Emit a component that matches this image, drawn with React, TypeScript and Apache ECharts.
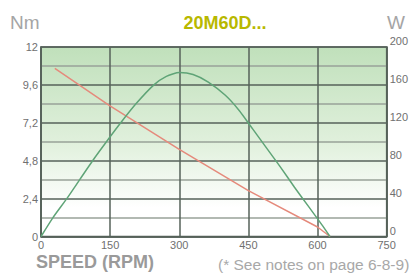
import React, { useEffect, useRef } from "react";
import * as echarts from "echarts";

const xTicks = [0, 150, 300, 450, 600, 750];
const torqueTicks = [0, 2.4, 4.8, 7.2, 9.6, 12];
const powerTicks = [0, 40, 80, 120, 160, 200];

const torqueData: [number, number][] = [
  [30, 10.65], [148, 8.3], [300, 5.52], [450, 2.9], [600, 0.6], [627, 0],
];
const powerData: [number, number][] = [
  [0, 0], [26, 20], [56, 40], [84, 60], [112, 80], [142, 100], [173, 120],
  [206, 140], [245, 160], [272, 169], [300, 173], [330, 171], [363, 163],
  [400, 149], [430, 133], [460, 113], [490, 93], [520, 73], [550, 52],
  [580, 32], [610, 12], [627, 0],
];

const title = "20M60D...";
const leftUnit = "Nm";
const rightUnit = "W";
const xName = "SPEED (RPM)";
const note = "(* See notes on page 6-8-9)";

export default function App() {
  const ref = useRef<HTMLDivElement>(null);
  useEffect(() => {
    if (!ref.current) return;
    const chart = echarts.init(ref.current, undefined, { renderer: "svg" });
    const font = "Liberation Sans, Arial, sans-serif";
    const major = "#56625a";
    const minor = "#98a298";
    chart.setOption({
      animation: false,
      textStyle: { fontFamily: font },
      title: {
        text: title,
        left: 220,
        top: 9,
        textAlign: "center",
        textStyle: { color: "#b8b800", fontSize: 18, fontWeight: "bold", fontFamily: font },
      },
      grid: {
        left: 41,
        right: 21,
        top: 47,
        bottom: 36.5,
        show: true,
        borderColor: major,
        borderWidth: 1.5,
        backgroundColor: new echarts.graphic.LinearGradient(0, 0, 0, 1, [
          { offset: 0, color: "#c0e0bb" },
          { offset: 0.5, color: "#e0f0dc" },
          { offset: 0.85, color: "#ffffff" },
          { offset: 1, color: "#ffffff" },
        ]),
      },
      xAxis: {
        type: "value",
        min: xTicks[0],
        max: xTicks[xTicks.length - 1],
        interval: xTicks[1] - xTicks[0],
        axisLine: { show: true, lineStyle: { color: major, width: 1.5 } },
        axisTick: { show: false },
        axisLabel: { color: "#707070", fontSize: 11, margin: 3, fontFamily: font },
        splitLine: { show: true, lineStyle: { color: major, width: 1.5 } },
      },
      yAxis: [
        {
          type: "value",
          min: torqueTicks[0],
          max: torqueTicks[torqueTicks.length - 1],
          interval: torqueTicks[1] - torqueTicks[0],
          axisLine: { show: true, lineStyle: { color: major, width: 1.5 } },
          axisTick: { show: false },
          axisLabel: {
            color: "#707070",
            fontSize: 11,
            margin: 3,
            fontFamily: font,
            formatter: (v: number) => String(Math.round(v * 10) / 10).replace(".", ","),
          },
          splitLine: { show: true, lineStyle: { color: major, width: 1.5 } },
          minorTick: { show: false, splitNumber: 2 },
          minorSplitLine: { show: true, lineStyle: { color: minor, width: 1.5 } },
        },
        {
          type: "value",
          min: powerTicks[0],
          max: powerTicks[powerTicks.length - 1],
          interval: powerTicks[1] - powerTicks[0],
          position: "right",
          axisLine: { show: true, lineStyle: { color: major, width: 1.5 } },
          axisTick: { show: false },
          axisLabel: {
            color: "#707070",
            fontSize: 11,
            margin: 3,
            fontFamily: font,
            verticalAlign: "bottom",
            lineHeight: 12,
          },
          splitLine: { show: false },
        },
      ],
      series: [
        {
          type: "line",
          yAxisIndex: 0,
          data: torqueData,
          showSymbol: false,
          lineStyle: { color: "#e58a7c", width: 1.5 },
          z: 3,
        },
        {
          type: "line",
          yAxisIndex: 1,
          data: powerData,
          smooth: 0.2,
          showSymbol: false,
          lineStyle: { color: "#5fa477", width: 1.5 },
          z: 3,
        },
      ],
      graphic: [
        {
          type: "text",
          left: 10,
          top: 13,
          style: { text: leftUnit, fill: "#a5a5a5", fontSize: 19, fontFamily: font },
        },
        {
          type: "text",
          left: 387,
          top: 13,
          style: { text: rightUnit, fill: "#a5a5a5", fontSize: 19, fontFamily: font },
        },
        {
          type: "text",
          left: 36,
          top: 253,
          style: { text: xName, fill: "#9a9a9a", fontSize: 18, fontWeight: "bold", fontFamily: font },
        },
        {
          type: "text",
          left: 218,
          top: 256,
          style: { text: note, fill: "#a8a8a8", fontSize: 15.5, fontFamily: font },
        },
      ],
    });
    return () => chart.dispose();
  }, []);
  return (
    <div
      ref={ref}
      style={{ position: "fixed", left: 0, top: 0, width: 411, height: 273, background: "#fff" }}
    />
  );
}
